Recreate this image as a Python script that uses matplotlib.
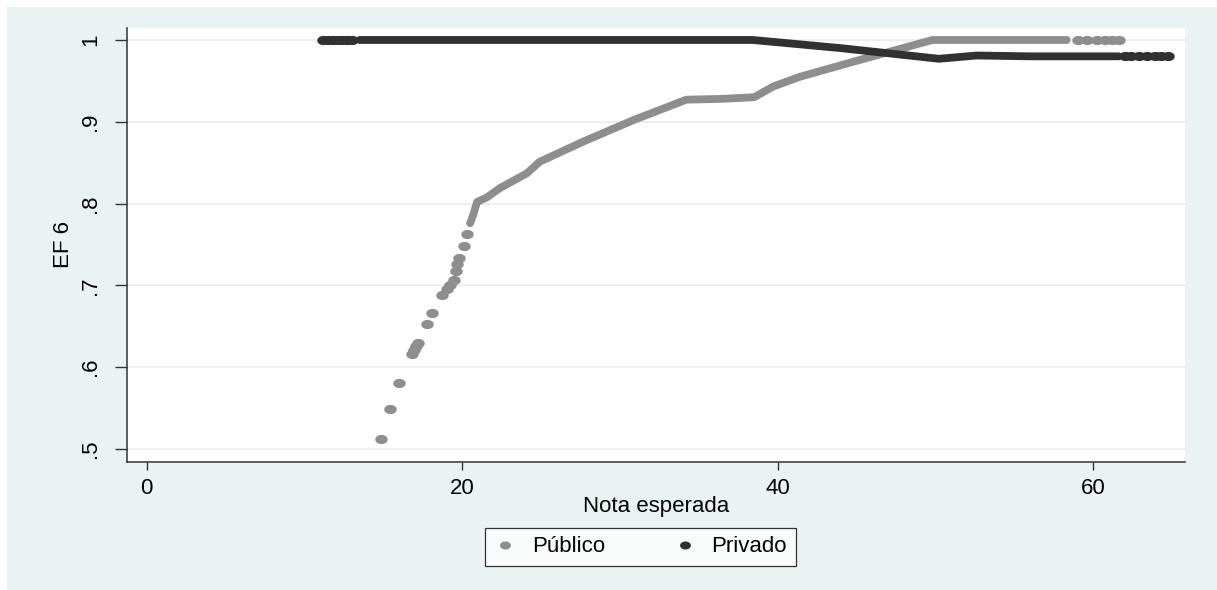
import numpy as np
import matplotlib
matplotlib.use("Agg")
import matplotlib.pyplot as plt
from matplotlib.path import Path
from matplotlib.patches import Rectangle

# points (Nota esperada vs EF 6)
pub_x = [14.85, 15.45, 16.0, 16.8, 16.95, 17.1, 17.2, 17.8, 18.1, 18.75,
         19.05, 19.25, 19.45, 19.6, 19.7, 19.8, 20.1, 20.3, 20.5, 20.6,
         20.7, 20.8, 20.95, 21.6, 22.4, 24.1, 24.9, 27.7, 30.85, 34.2,
         36.5, 38.5, 39.7, 41.4, 44.8, 49.8, 53.0, 56.0, 58.3, 59.0,
         59.6, 60.2, 60.7, 61.2, 61.6]
pub_y = [0.512, 0.549, 0.581, 0.616, 0.621, 0.626, 0.629, 0.653, 0.666, 0.688,
         0.696, 0.700, 0.706, 0.718, 0.726, 0.733, 0.748, 0.763, 0.776, 0.781,
         0.786, 0.793, 0.802, 0.808, 0.819, 0.837, 0.851, 0.876, 0.902, 0.927,
         0.928, 0.930, 0.943, 0.955, 0.9735, 1.0, 1.0, 1.0, 1.0, 1.0,
         1.0, 1.0, 1.0, 1.0, 1.0]

priv_x = [11.2, 11.5, 11.8, 12.1, 12.4, 12.7, 13.0, 13.5, 14.0, 16.0,
          20.0, 25.0, 30.0, 35.0, 38.4, 44.0, 50.2, 52.6, 56.0, 59.0,
          61.6, 62.0, 62.4, 62.9, 63.4, 63.9, 64.3, 64.7]
priv_y = [1.0, 1.0, 1.0, 1.0, 1.0, 1.0, 1.0, 1.0, 1.0, 1.0,
          1.0, 1.0, 1.0, 1.0, 1.0, 0.990, 0.977, 0.981, 0.980, 0.980,
          0.980, 0.980, 0.980, 0.980, 0.980, 0.980, 0.980, 0.980]

# x ranges where the points are packed into a solid band
pub_band = (20.5, 58.3)
priv_band = (13.5, 61.6)

yticks = [0.5, 0.6, 0.7, 0.8, 0.9, 1.0]
ytick_labels = [".5", ".6", ".7", ".8", ".9", "1"]
xticks = [0, 20, 40, 60]

GRAY = "#8e8e8e"
DARK = "#313131"
BG = "#eaf2f3"
FS = 16

plt.rcParams["font.family"] = ["Liberation Sans", "DejaVu Sans"]

fig = plt.figure(figsize=(12.17, 5.90), dpi=100, facecolor="white")
fig.patches.append(Rectangle((7 / 1217, 0), 1, 1 - 6.5 / 590,
                             transform=fig.transFigure, color=BG, zorder=-10))
ax = fig.add_axes([127 / 1217, 1 - 462 / 590, (1185 - 127) / 1217, (462 - 27.7) / 590])

# slightly flattened dot, as in the stretched original
t = np.linspace(0, 2 * np.pi, 41)
dot = Path(np.column_stack([np.cos(t), 0.7 * np.sin(t)]))


def draw(xs, ys, band, color, label):
    xs = np.asarray(xs)
    ys = np.asarray(ys)
    inside = (xs >= band[0]) & (xs <= band[1])
    ax.plot(xs[inside], ys[inside], color=color, lw=5.6, solid_capstyle="round",
            solid_joinstyle="round", zorder=3)
    return ax.plot(xs[~inside], ys[~inside], ls="none", marker=dot, ms=8,
                   color=color, mec=color, label=label, zorder=3)[0]


h1 = draw(pub_x, pub_y, pub_band, GRAY, "Público")
h2 = draw(priv_x, priv_y, priv_band, DARK, "Privado")

ax.set_xlim(-1.24, 65.8)
ax.set_ylim(0.484, 1.015)
ax.set_xticks(xticks)
ax.set_yticks(yticks)
ax.set_yticklabels(ytick_labels)
ax.yaxis.grid(True, color="#e6eef0", lw=1.2, zorder=0)
ax.set_axisbelow(True)

for s in ("top", "right"):
    ax.spines[s].set_visible(False)
for s in ("left", "bottom"):
    ax.spines[s].set_color("#333333")
    ax.spines[s].set_linewidth(1.1)

ax.tick_params(axis="x", length=5.8, width=1, color="#333333", pad=5.8,
               labelsize=FS)
ax.tick_params(axis="y", length=8.6, width=1, color="#333333", pad=10,
               labelsize=FS, labelrotation=90)
for lab in ax.get_yticklabels():
    lab.set_va("center")

ax.set_xlabel("Nota esperada", fontsize=FS, labelpad=-2)
ax.set_ylabel("EF 6", fontsize=FS)
ax.yaxis.set_label_coords(-0.05, 0.5)

leg = fig.legend(handles=[h1, h2], loc="center left", ncol=2,
                 bbox_to_anchor=(485 / 1217, 1 - 547 / 590),
                 bbox_transform=fig.transFigure, fontsize=FS,
                 frameon=True, fancybox=False, borderpad=0.4,
                 handlelength=1.0, handletextpad=0.7, columnspacing=3.1,
                 borderaxespad=0, markerscale=0.85)
leg.get_frame().set_edgecolor("black")
leg.get_frame().set_linewidth(0.9)
leg.get_frame().set_facecolor("white")

fig.savefig("out.png", dpi=100, facecolor=fig.get_facecolor())
